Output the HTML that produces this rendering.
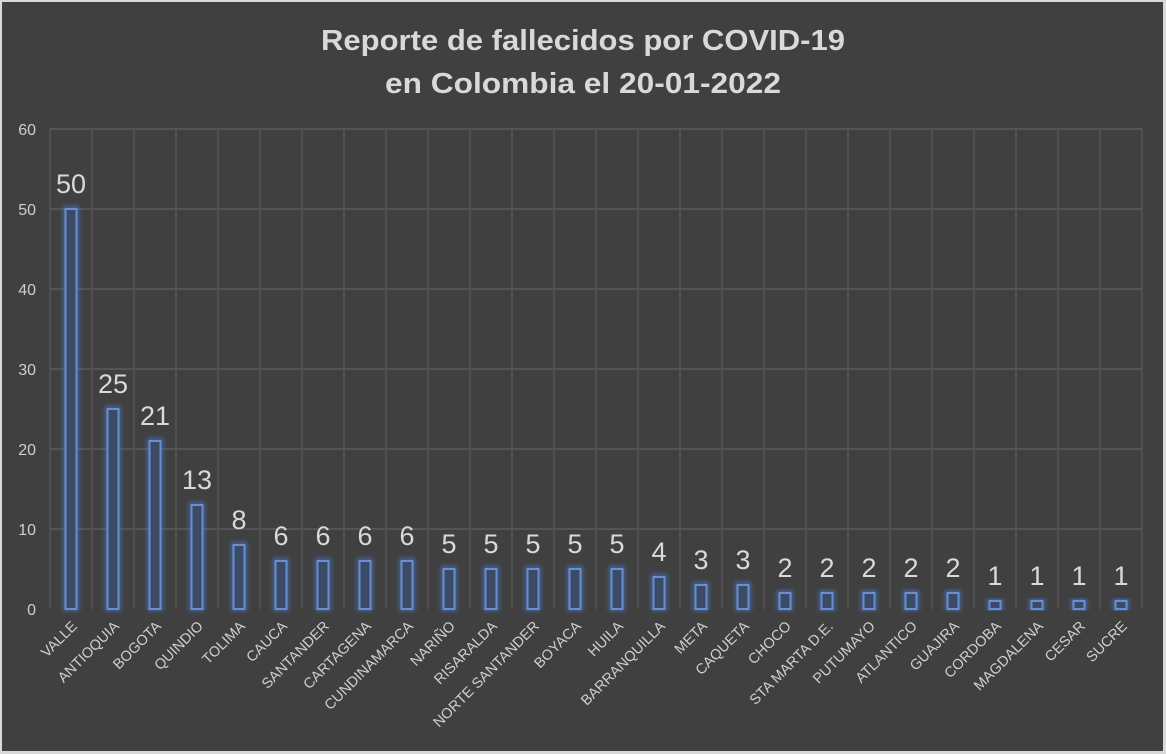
<!DOCTYPE html>
<html><head><meta charset="utf-8"><style>
html,body{margin:0;padding:0;background:#404040;}
svg{display:block;}
</style></head><body>
<svg width="1166" height="754" xmlns="http://www.w3.org/2000/svg" font-family="Liberation Sans, DejaVu Sans, sans-serif">
<defs>
<filter id="glow" x="-100%" y="-20%" width="300%" height="140%"><feGaussianBlur stdDeviation="2.5"/></filter>
</defs>
<rect x="0" y="0" width="1166" height="754" fill="#d9d9d9"/>
<rect x="2" y="2" width="1161" height="749" fill="#404040"/>
<text x="583" y="50" text-anchor="middle" font-size="29" font-weight="bold" fill="#d9d9d9" textLength="524" lengthAdjust="spacingAndGlyphs">Reporte de fallecidos por COVID-19</text>
<text x="583" y="93" text-anchor="middle" font-size="29" font-weight="bold" fill="#d9d9d9" textLength="396" lengthAdjust="spacingAndGlyphs">en Colombia el 20-01-2022</text>
<g stroke="#5a5a5a" stroke-width="1.5">
<line x1="50" y1="129" x2="1142" y2="129"/><line x1="50" y1="209" x2="1142" y2="209"/><line x1="50" y1="289" x2="1142" y2="289"/><line x1="50" y1="369" x2="1142" y2="369"/><line x1="50" y1="449" x2="1142" y2="449"/><line x1="50" y1="529" x2="1142" y2="529"/>
</g>
<g id="vg" stroke="#555" stroke-width="1.5"></g>
<g font-size="16" fill="#cfcfcf" text-anchor="end">
<text x="36" y="135">60</text><text x="36" y="215">50</text><text x="36" y="295">40</text><text x="36" y="375">30</text><text x="36" y="455">20</text><text x="36" y="535">10</text><text x="36" y="615">0</text>
</g>
<g id="bars"></g>
<script>
(function(){
var names=["VALLE","ANTIOQUIA","BOGOTA","QUINDIO","TOLIMA","CAUCA","SANTANDER","CARTAGENA","CUNDINAMARCA","NARIÑO","RISARALDA","NORTE SANTANDER","BOYACA","HUILA","BARRANQUILLA","META","CAQUETA","CHOCO","STA MARTA D.E.","PUTUMAYO","ATLANTICO","GUAJIRA","CORDOBA","MAGDALENA","CESAR","SUCRE"];
var vals=[50,25,21,13,8,6,6,6,6,5,5,5,5,5,4,3,3,2,2,2,2,2,1,1,1,1];
var ns="http://www.w3.org/2000/svg",vg=document.getElementById("vg"),g=document.getElementById("bars");
function el(t,a,p,txt){var e=document.createElementNS(ns,t);for(var k in a)e.setAttribute(k,a[k]);if(txt!==undefined)e.textContent=txt;p.appendChild(e);return e;}
for(var k=0;k<=26;k++){var x=50+42*k;el("line",{x1:x,y1:129,x2:x,y2:609},vg);}
for(var i=0;i<26;i++){var cx=71+42*i,v=vals[i],yt=609-8*v;
el("rect",{x:cx-6,y:yt-1,width:12,height:8*v+1,fill:"none",stroke:"#4a78c8","stroke-width":4,opacity:0.7,filter:"url(#glow)"},g);
el("rect",{x:cx-5.5,y:yt,width:11,height:8*v,fill:"#3b4a66",stroke:"#6a8fd0","stroke-width":2},g);
el("text",{x:cx,y:yt-16,"text-anchor":"middle","font-size":27,fill:"#d9d9d9"},g,String(v));
var ax=cx+7,ay=627;
el("text",{x:ax,y:ay,"text-anchor":"end","font-size":14.5,fill:"#cfcfcf",transform:"rotate(-45 "+ax+" "+ay+")"},g,names[i]);}
})();
</script>
</svg>
</body></html>
